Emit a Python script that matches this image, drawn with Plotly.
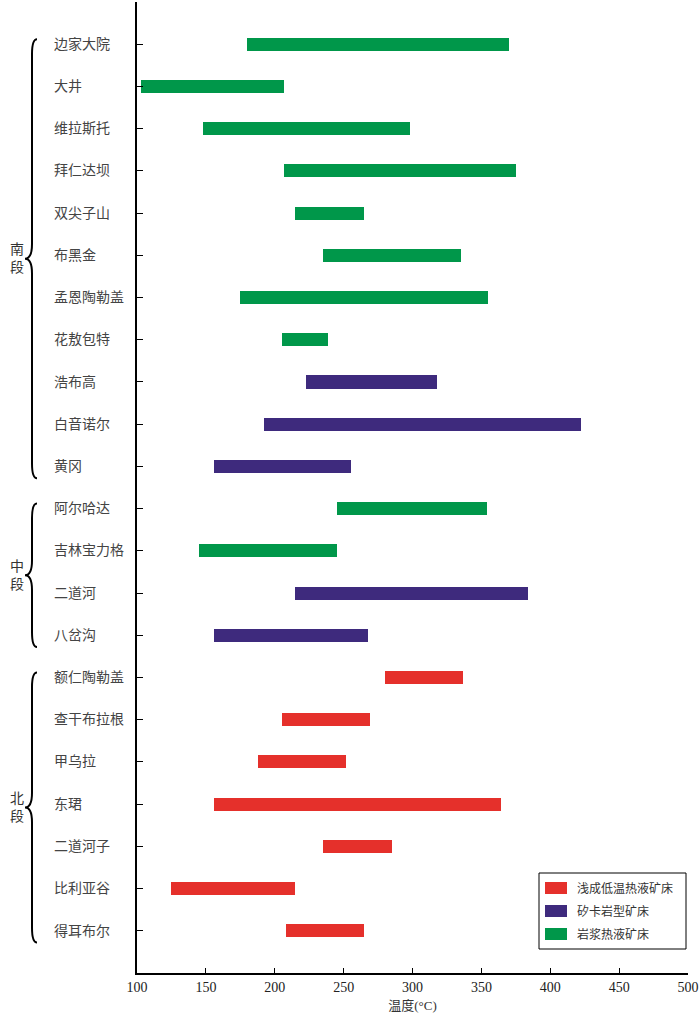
import plotly.graph_objects as go

# deposits, top to bottom
deposits = ["边家大院", "大井", "维拉斯托", "拜仁达坝", "双尖子山", "布黑金", "孟恩陶勒盖",
            "花敖包特", "浩布高", "白音诺尔", "黄冈", "阿尔哈达", "吉林宝力格", "二道河",
            "八岔沟", "额仁陶勒盖", "查干布拉根", "甲乌拉", "东珺", "二道河子", "比利亚谷", "得耳布尔"]
t_low = [180, 103, 148, 207, 215, 235, 175, 205, 223, 192, 156, 245, 145, 215,
         156, 280, 205, 188, 156, 235, 125, 208]
t_high = [370, 207, 298, 375, 265, 335, 355, 239, 318, 422, 255, 354, 245, 384,
          268, 337, 269, 252, 364, 285, 215, 265]
dep_type = ["岩浆热液矿床"] * 8 + ["矽卡岩型矿床"] * 3 + ["岩浆热液矿床"] * 2 + \
           ["矽卡岩型矿床"] * 2 + ["浅成低温热液矿床"] * 7

type_order = ["浅成低温热液矿床", "矽卡岩型矿床", "岩浆热液矿床"]
type_colors = {"浅成低温热液矿床": "#E5302B", "矽卡岩型矿床": "#3E2A7D", "岩浆热液矿床": "#00974A"}

# segment groups: label, first index, last index
segments = [("南<br>段", 0, 10), ("中<br>段", 11, 14), ("北<br>段", 15, 21)]

font_fam = "'Liberation Serif', 'Noto Sans CJK SC'"

# plot area in pixels (for placing the hand-made legend)
L, R, T, B = 137, 688, 2, 973
def px(xp): return (xp - L) / (R - L)
def py(yp): return (B - yp) / (B - T)

fig = go.Figure()

for t in type_order:
    idx = [i for i, d in enumerate(dep_type) if d == t]
    fig.add_trace(go.Bar(
        orientation="h",
        y=idx,
        base=[t_low[i] for i in idx],
        x=[t_high[i] - t_low[i] for i in idx],
        width=0.31,
        marker=dict(color=type_colors[t], line=dict(width=0)),
        name=t, showlegend=False,
    ))

# deposit labels (left aligned)
for i, name in enumerate(deposits):
    fig.add_annotation(x=px(52), xref="paper", y=i, yref="y", text=name,
                       showarrow=False, xanchor="left",
                       font=dict(family=font_fam, size=14, color="#444"))

# braces + segment labels
xr, xm, xl = px(37), px(32), px(25)
for lab, a, b in segments:
    y0, y1 = a - 0.12, b + 0.28
    ym = (y0 + y1) / 2
    d = 0.35
    path = (f"M {xr},{y0} Q {xm},{y0} {xm},{y0 + d} L {xm},{ym - d} "
            f"Q {xm},{ym} {xl},{ym} Q {xm},{ym} {xm},{ym + d} "
            f"L {xm},{y1 - d} Q {xm},{y1} {xr},{y1}")
    fig.add_shape(type="path", path=path, xref="paper", yref="y",
                  line=dict(color="black", width=2))
    fig.add_annotation(x=px(8), xref="paper", y=ym, yref="y", text=lab,
                       showarrow=False, font=dict(family=font_fam, size=14, color="#333"))

# legend box drawn by hand (wide swatches)
fig.add_shape(type="rect", xref="paper", yref="paper",
              x0=px(539), x1=px(686), y0=py(949), y1=py(873),
              line=dict(color="black", width=1), fillcolor="white")
for k, t in enumerate(type_order):
    yc = 888 + 23 * k
    fig.add_shape(type="rect", xref="paper", yref="paper",
                  x0=px(545), x1=px(567), y0=py(yc + 6), y1=py(yc - 6),
                  line=dict(width=0), fillcolor=type_colors[t])
    fig.add_annotation(x=px(575), xref="paper", y=py(yc), yref="paper", text=t,
                       showarrow=False, xanchor="left", yanchor="middle",
                       font=dict(family=font_fam, size=12, color="#333"))

fig.update_layout(
    width=700, height=1017,
    margin=dict(l=L, r=700 - R, t=T, b=1017 - B),
    plot_bgcolor="white", paper_bgcolor="white",
    bargap=0,
    showlegend=False,
    xaxis=dict(range=[100, 500], tickvals=list(range(100, 501, 50)),
               ticks="inside", ticklen=5, tickcolor="black",
               showline=True, linecolor="black", linewidth=1.5,
               showgrid=False, zeroline=False,
               tickfont=dict(family=font_fam, size=14, color="#222"),
               title=dict(text="温度(°C)", font=dict(family=font_fam, size=13, color="#333"),
                          standoff=7)),
    yaxis=dict(range=[22, -1], tickvals=list(range(-1, 22)),
               showticklabels=False, ticks="inside", ticklen=6, tickcolor="black",
               showline=True, linecolor="black", linewidth=1.5,
               showgrid=False, zeroline=False),
)

fig.write_html("out.html", config={"displayModeBar": False},
               post_script="document.body.style.margin='0px';")
